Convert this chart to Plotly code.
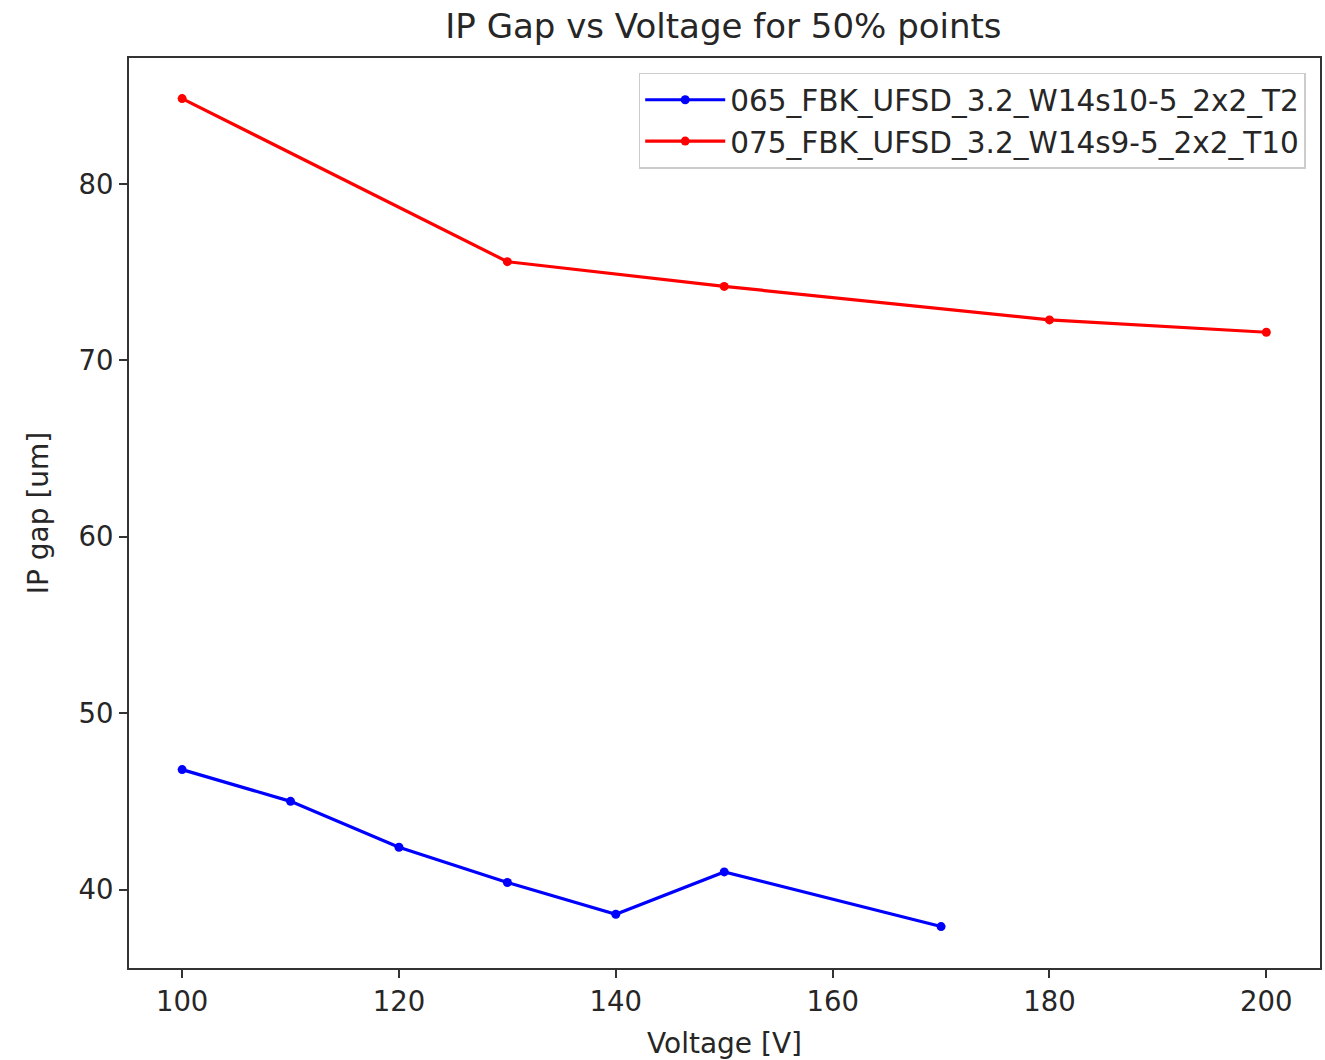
import plotly.graph_objects as go

title = "IP Gap vs Voltage for 50% points"
x_label = "Voltage [V]"
y_label = "IP gap [um]"

blue_name = "065_FBK_UFSD_3.2_W14s10-5_2x2_T2"
blue_v = [100, 110, 120, 130, 140, 150, 170]
blue_gap = [46.8, 45.0, 42.4, 40.4, 38.6, 41.0, 37.9]

red_name = "075_FBK_UFSD_3.2_W14s9-5_2x2_T10"
red_v = [100, 130, 150, 180, 200]
red_gap = [84.85, 75.6, 74.2, 72.3, 71.6]

x_ticks = [100, 120, 140, 160, 180, 200]
y_ticks = [40, 50, 60, 70, 80]

FONT = "DejaVu Sans"
TXT = "#262626"
fig = go.Figure()
fig.add_trace(go.Scatter(x=blue_v, y=blue_gap, name=blue_name, mode="lines+markers",
                         line=dict(color="#0000ff", width=3.2), marker=dict(size=9, color="#0000ff")))
fig.add_trace(go.Scatter(x=red_v, y=red_gap, name=red_name, mode="lines+markers",
                         line=dict(color="#ff0000", width=3.2), marker=dict(size=9, color="#ff0000")))

axis_common = dict(showgrid=False, zeroline=False, showline=True, mirror=True,
                   linecolor="#333333", linewidth=2, ticks="outside", ticklen=8,
                   tickwidth=2, tickcolor="#333333",
                   tickfont=dict(family=FONT, size=27.5, color=TXT))

fig.update_layout(
    width=1325, height=1060,
    margin=dict(l=129, r=3, t=58, b=92),
    paper_bgcolor="white", plot_bgcolor="white",
    title=dict(text=title, x=0.546, xanchor="center", y=0.975, yanchor="middle",
               font=dict(family=FONT, size=34, color=TXT)),
    xaxis=dict(range=[95.1, 204.95], tickvals=x_ticks,
               title=dict(text=x_label, font=dict(family=FONT, size=28, color=TXT), standoff=18),
               **axis_common),
    yaxis=dict(range=[35.55, 87.15], tickvals=y_ticks,
               title=dict(text=y_label, font=dict(family=FONT, size=28, color=TXT), standoff=22),
               **axis_common),
    legend=dict(x=0.988, y=0.984, xanchor="right", yanchor="top",
                bgcolor="white", bordercolor="#cccccc", borderwidth=1.5,
                font=dict(family=FONT, size=29.5, color=TXT),
                tracegroupgap=0, itemwidth=80),
    showlegend=True,
)

fig.write_html("out.html")
